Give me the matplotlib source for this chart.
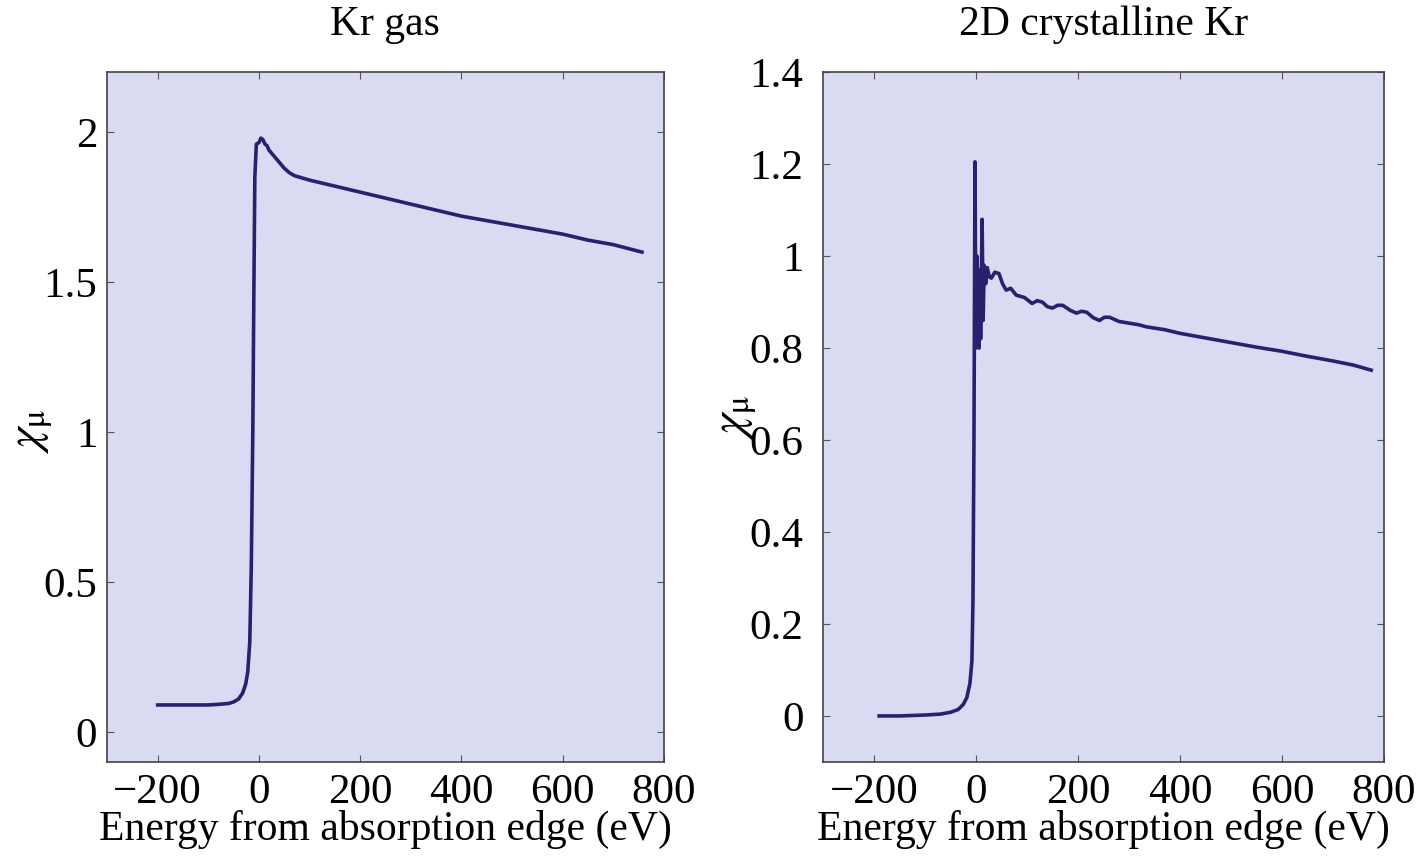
import matplotlib
matplotlib.use("Agg")
import matplotlib.pyplot as plt

plt.rcParams['font.family'] = ['Liberation Serif', 'DejaVu Serif']
plt.rcParams['mathtext.fontset'] = 'stix'

# Kr gas spectrum (energy in eV, chi_mu)
gas_e = [-200, -150, -100, -80, -60, -50, -40, -32, -26, -22, -18, -15, -12,
         -10, -8, -5, 0, 4, 8, 12, 16, 20, 30, 40, 50, 60, 70, 80, 100,
         125, 150, 200, 250, 300, 350, 400, 450, 500, 550, 600, 650, 700, 757]
gas_mu = [0.09, 0.09, 0.09, 0.092, 0.095, 0.10, 0.11, 0.13, 0.16, 0.20, 0.30,
          0.55, 1.0, 1.45, 1.85, 1.96, 1.965, 1.98, 1.975, 1.96, 1.955, 1.94,
          1.92, 1.90, 1.88, 1.865, 1.855, 1.85, 1.84, 1.83, 1.82, 1.80, 1.78,
          1.76, 1.74, 1.72, 1.705, 1.69, 1.675, 1.66, 1.64, 1.625, 1.60]

# 2D crystalline Kr spectrum
cry_e = [-190, -150, -100, -70, -50, -35, -25, -18, -12, -8, -6, -4, -3, -2,
         0, 2, 3, 5, 6, 8, 9, 11, 12, 14, 16, 19, 22, 26, 30, 37, 45, 52,
         59, 68, 79, 95, 110, 120, 130, 140, 150, 160, 170, 185, 197, 207,
         217, 230, 242, 252, 262, 280, 301, 318, 335, 370, 400, 450, 500,
         550, 600, 650, 700, 740, 775]
cry_mu = [0.0, 0.0, 0.002, 0.004, 0.008, 0.014, 0.025, 0.04, 0.07, 0.12, 0.25,
          0.6, 0.9, 1.205, 0.80, 1.0, 0.82, 0.97, 0.80, 0.95, 0.82, 1.0, 1.08,
          0.86, 0.98, 0.94, 0.975, 0.955, 0.952, 0.965, 0.962, 0.94, 0.926,
          0.93, 0.915, 0.91, 0.897, 0.903, 0.9, 0.89, 0.887, 0.893, 0.893,
          0.882, 0.876, 0.88, 0.878, 0.866, 0.86, 0.867, 0.867, 0.858, 0.854,
          0.851, 0.846, 0.84, 0.832, 0.822, 0.812, 0.802, 0.793, 0.782, 0.772,
          0.763, 0.752]

x_ticks = [-200, 0, 200, 400, 600, 800]
x_labels = ['\u2212200', '0', '200', '400', '600', '800']
gas_yticks = [0, 0.5, 1, 1.5, 2]
gas_ylabels = ['0', '0.5', '1', '1.5', '2']
cry_yticks = [0, 0.2, 0.4, 0.6, 0.8, 1.0, 1.2, 1.4]
cry_ylabels = ['0', '0.2', '0.4', '0.6', '0.8', '1', '1.2', '1.4']

face = '#d9dbf2'
line_col = '#2b206e'

fig = plt.figure(figsize=(14.2, 8.59), dpi=100)
ax1 = fig.add_axes([0.0754, 0.113, 0.392, 0.803])
ax2 = fig.add_axes([0.5796, 0.113, 0.395, 0.803])

panels = [
    (ax1, gas_e, gas_mu, 'Kr gas', (-0.1, 2.2), gas_yticks, gas_ylabels, (-0.093, 0.48), 7),
    (ax2, cry_e, cry_mu, '2D crystalline Kr', (-0.1, 1.4), cry_yticks, cry_ylabels, (-0.115, 0.50), 14),
]

for ax, e, mu, title, ylim, yt, yl, lab_pos, ypad in panels:
    ax.set_facecolor(face)
    ax.plot(e, mu, color=line_col, lw=2.6, solid_joinstyle='round')
    ax.set_xlim(-300, 800)
    ax.set_ylim(*ylim)
    ax.set_xticks(x_ticks)
    ax.set_xticklabels(x_labels)
    ax.set_yticks(yt)
    ax.set_yticklabels(yl)
    ax.tick_params(direction='in', top=True, right=True, length=5,
                   labelsize=31, color='#555555')
    ax.tick_params(axis='x', pad=8)
    ax.tick_params(axis='y', pad=ypad)
    for s in ax.spines.values():
        s.set_color('#444444')
        s.set_linewidth(1.2)
    ax.set_title(title, fontsize=30, pad=27)
    ax.set_xlabel('Energy from absorption edge (eV)', fontsize=30, labelpad=-1)
    ax.set_ylabel(r'$\chi_{\mathrm{\mu}}$', fontsize=34)
    ax.yaxis.set_label_coords(*lab_pos)

fig.savefig('out.png', dpi=100)
